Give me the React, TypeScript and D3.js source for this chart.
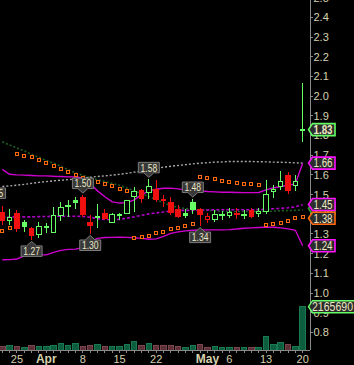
import React from 'react';
import * as d3 from 'd3';

const W = 354;
const H = 365;

// ---- OHLC (index 0 = Mar 21 ... index 41 = May 20) ----
const opens = [1.41, 1.367, 1.409, 1.359, 1.328, 1.295, 1.334, 1.307, 1.396, 1.446, 1.472, 1.488, 1.359, 1.386, 1.409, 1.359, 1.397, 1.404, 1.488, 1.522, 1.51, 1.53, 1.48, 1.46, 1.429, 1.409, 1.46, 1.429, 1.376, 1.376, 1.398, 1.395, 1.407, 1.397, 1.421, 1.404, 1.416, 1.514, 1.539, 1.601, 1.547, 1.823];
const highs = [1.44, 1.429, 1.42, 1.37, 1.333, 1.362, 1.354, 1.438, 1.46, 1.472, 1.488, 1.5, 1.396, 1.45, 1.429, 1.409, 1.409, 1.475, 1.539, 1.53, 1.58, 1.575, 1.5, 1.488, 1.446, 1.426, 1.48, 1.433, 1.409, 1.42, 1.416, 1.43, 1.43, 1.424, 1.43, 1.43, 1.575, 1.55, 1.618, 1.615, 1.598, 2.066];
const lows = [1.345, 1.345, 1.312, 1.312, 1.27, 1.281, 1.303, 1.305, 1.366, 1.388, 1.426, 1.385, 1.3, 1.332, 1.37, 1.354, 1.37, 1.4, 1.412, 1.455, 1.48, 1.463, 1.438, 1.396, 1.38, 1.38, 1.404, 1.34, 1.357, 1.362, 1.37, 1.383, 1.376, 1.376, 1.38, 1.388, 1.404, 1.485, 1.522, 1.505, 1.517, 1.766];
const closes = [1.366, 1.383, 1.325, 1.333, 1.291, 1.337, 1.339, 1.396, 1.432, 1.435, 1.455, 1.396, 1.342, 1.39, 1.374, 1.399, 1.401, 1.472, 1.514, 1.48, 1.539, 1.475, 1.467, 1.409, 1.387, 1.392, 1.421, 1.396, 1.391, 1.399, 1.401, 1.41, 1.396, 1.401, 1.388, 1.416, 1.5, 1.527, 1.569, 1.517, 1.569, 1.833];
const priorClose = 1.42;
const volumes = [200000, 250000, 200000, 150000, 210000, 190000, 160000, 250000, 340000, 240000, 330000, 200000, 240000, 290000, 190000, 200000, 190000, 260000, 450000, 240000, 340000, 250000, 240000, 210000, 200000, 140000, 250000, 300000, 150000, 190000, 150000, 150000, 150000, 150000, 150000, 150000, 660000, 300000, 360000, 300000, 190000, 2165690];

// ---- Indicators ----
const bbUpper = [1.628, 1.603, 1.6, 1.599, 1.597, 1.595, 1.595, 1.593, 1.592, 1.59, 1.589, 1.585, 1.555, 1.519, 1.489, 1.463, 1.457, 1.458, 1.473, 1.499, 1.519, 1.527, 1.532, 1.533, 1.529, 1.524, 1.522, 1.519, 1.516, 1.514, 1.512, 1.512, 1.511, 1.51, 1.51, 1.511, 1.524, 1.534, 1.541, 1.547, 1.555, 1.659];
const bbMiddle = [1.385, 1.386, 1.386, 1.387, 1.387, 1.388, 1.389, 1.39, 1.39, 1.39, 1.39, 1.389, 1.385, 1.378, 1.374, 1.372, 1.374, 1.38, 1.387, 1.395, 1.402, 1.407, 1.412, 1.417, 1.42, 1.42, 1.42, 1.421, 1.422, 1.423, 1.423, 1.423, 1.423, 1.423, 1.423, 1.424, 1.426, 1.428, 1.43, 1.433, 1.438, 1.448];
const bbLower = [1.169, 1.17, 1.173, 1.189, 1.194, 1.194, 1.194, 1.207, 1.217, 1.222, 1.223, 1.232, 1.26, 1.278, 1.282, 1.283, 1.284, 1.283, 1.281, 1.278, 1.273, 1.275, 1.288, 1.303, 1.311, 1.316, 1.319, 1.32, 1.321, 1.321, 1.321, 1.322, 1.325, 1.329, 1.331, 1.333, 1.335, 1.334, 1.331, 1.326, 1.319, 1.24];
const maGray = [1.542, 1.544, 1.548, 1.552, 1.557, 1.562, 1.566, 1.57, 1.573, 1.576, 1.579, 1.582, 1.588, 1.592, 1.595, 1.599, 1.603, 1.608, 1.614, 1.619, 1.626, 1.633, 1.639, 1.644, 1.648, 1.652, 1.656, 1.66, 1.662, 1.665, 1.666, 1.668, 1.668, 1.668, 1.668, 1.667, 1.666, 1.665, 1.664, 1.663, 1.661, 1.66];
const maGreen = [1.768, 1.752, 1.737, 1.722, 1.704, 1.689, 1.674, 1.659, 1.643, 1.627, 1.61, 1.598, 1.585, 1.575, 1.566, 1.557, 1.547, 1.534, 1.519, 1.505, 1.491, 1.475, 1.458, 1.445, 1.435, 1.429, 1.425, 1.423, 1.42, 1.418, 1.415, 1.414, 1.414, 1.414, 1.414, 1.414, 1.415, 1.416, 1.418, 1.419, 1.42, 1.422];
const sar = [1.315, 1.332, 1.707, 1.698, 1.69, 1.675, 1.661, 1.645, 1.63, 1.615, 1.6, 1.586, 1.574, 1.564, 1.553, 1.543, 1.528, 1.519, 1.278, 1.283, 1.289, 1.303, 1.312, 1.323, 1.332, 1.342, 1.35, 1.589, 1.584, 1.577, 1.571, 1.566, 1.561, 1.556, 1.552, 1.547, 1.347, 1.352, 1.357, 1.367, 1.379, 1.387];

// ---- Axis labels ----
const dateTickIndex = [2, 6, 11, 16, 21, 28, 31, 36, 41];
const dateTickLabels = ['25', 'Apr', '8', '15', '22', 'May', '6', '13', '20'];
const priceTicks = [0.8, 0.9, 1.0, 1.1, 1.2, 1.3, 1.4, 1.5, 1.6, 1.7, 1.8, 1.9, 2.0, 2.1, 2.2, 2.3, 2.4, 2.5];

// ---- High / low markers ----
const markerIndex = [-1, 4, 11, 12, 20, 26, 27];
const markerValue = [1.45, 1.27, 1.5, 1.3, 1.58, 1.48, 1.34];
const markerKind = ['high', 'low', 'high', 'low', 'high', 'high', 'low'];

// ---- Right-edge value callouts ----
const calloutValues = [1.43, 1.66, 1.45, 1.38, 1.24, 1.83];
const calloutColors = ['#2f9f2f', '#ff10ff', '#ff10ff', '#ff6a10', '#ff10ff', '#66ff66'];
const calloutBold = [false, false, false, false, false, true];
const lastVolume = 2165690;

const GREEN = '#66ff66';
const RED = '#f01010';
const AXIS_TXT = '#d6d2ae';
const SANS = "'Liberation Sans', Arial, sans-serif";

export default function App() {
  const axisX = 310;
  const baseY = 350;
  const x = d3.scaleLinear().domain([0, 41]).range([2.3, 302.7]);
  const y = d3.scaleLinear().domain([0.711, 2.488]).range([350, 0]);
  const yVol = d3.scaleLinear().domain([0, 17500000]).range([baseY, 0]);

  const line = (arr: number[]) =>
    d3.line<number>().x((_, i) => x(i)).y((d) => y(d))(arr) || '';

  const bodyW = 5.5;
  const candles = closes.map((c, i) => {
    const o = opens[i];
    const prev = i === 0 ? priorClose : closes[i - 1];
    const up = c >= prev;
    const hollow = c >= o;
    const color = up ? GREEN : RED;
    const top = y(Math.max(o, c));
    const bot = y(Math.min(o, c));
    return { i, color, hollow, top, bot, hi: y(highs[i]), lo: y(lows[i]), up };
  });

  return (
    <svg width={W} height={H} style={{ position: 'absolute', left: 0, top: 0, background: '#000' }}>
      <rect x={0} y={0} width={W} height={H} fill="#000" />

      {/* volume */}
      <g shapeRendering="crispEdges">
        {volumes.map((v, i) => {
          const up = candles[i].up;
          const yt = yVol(v);
          return (
            <rect key={'v' + i} x={x(i) - 2.75} y={yt} width={5.5} height={baseY - yt}
              fill={up ? '#0c5e3e' : '#5c3036'} stroke={up ? '#197a52' : '#7a454c'} strokeWidth={1} />
          );
        })}
      </g>

      {/* indicator lines */}
      <path d={line(maGreen)} fill="none" stroke="#1f5f24" strokeWidth={1.6} strokeDasharray="2,2" />
      <path d={line(maGray)} fill="none" stroke="#a8a8a8" strokeWidth={1.4} strokeDasharray="2,2" />
      <path d={line(bbUpper)} fill="none" stroke="#d000d0" strokeWidth={1.4} />
      <path d={line(bbLower)} fill="none" stroke="#d000d0" strokeWidth={1.4} />
      <path d={line(bbMiddle)} fill="none" stroke="#b000c8" strokeWidth={1.6} strokeDasharray="3,2" />

      {/* parabolic SAR */}
      <g shapeRendering="crispEdges">
        {sar.map((v, i) => (
          <rect key={'s' + i} x={x(i) - 1.5} y={y(v) - 1.5} width={3} height={3}
            fill="#1a0800" stroke="#ff6a10" strokeWidth={1} />
        ))}
      </g>

      {/* candles */}
      <g shapeRendering="crispEdges">
        {candles.map((c) => {
          const cx = x(c.i);
          const h = Math.max(1, c.bot - c.top);
          return (
            <g key={'c' + c.i}>
              <line x1={cx} x2={cx} y1={c.hi} y2={c.lo} stroke={c.color} strokeWidth={1} />
              {c.hollow ? (
                <rect x={cx - bodyW / 2 + 0.5} y={c.top} width={bodyW - 1} height={h}
                  fill="#000" stroke={c.color} strokeWidth={1} />
              ) : (
                <rect x={cx - bodyW / 2} y={c.top} width={bodyW} height={h} fill={c.color} />
              )}
            </g>
          );
        })}
      </g>

      {/* axes */}
      <line x1={axisX} x2={axisX} y1={0} y2={baseY} stroke="#8a8a8a" strokeWidth={1} shapeRendering="crispEdges" />
      <line x1={0} x2={axisX} y1={baseY} y2={baseY} stroke="#8a8a8a" strokeWidth={1} shapeRendering="crispEdges" />
      {closes.map((_, i) => (
        <line key={'bt' + i} x1={x(i)} x2={x(i)} y1={baseY} y2={baseY + 3} stroke="#8a8a8a" strokeWidth={1} shapeRendering="crispEdges" />
      ))}
      {priceTicks.map((t) => (
        <g key={'pt' + t}>
          <line x1={axisX} x2={axisX + 3} y1={y(t)} y2={y(t)} stroke="#8a8a8a" strokeWidth={1} shapeRendering="crispEdges" />
          <text x={axisX + 3.5} y={y(t)} dy="0.36em" fontFamily={SANS} fontSize={11} fill={AXIS_TXT}>
            {t.toFixed(1)}
          </text>
        </g>
      ))}
      {dateTickIndex.map((ti, k) => {
        const isMonth = /[A-Za-z]/.test(dateTickLabels[k]);
        return (
          <text key={'dt' + k} x={x(ti)} y={363} textAnchor="middle" fontFamily={SANS}
            fontSize={isMonth ? 12 : 11} fontWeight={isMonth ? 'bold' : 'normal'} fill={AXIS_TXT}>
            {dateTickLabels[k]}
          </text>
        );
      })}

      {/* high / low markers */}
      {markerIndex.map((mi, k) => {
        const cx = x(mi);
        const vy = y(markerValue[k]);
        const bw = 21, bh = 10.5, th = 4.5;
        let d: string;
        let ty: number;
        if (markerKind[k] === 'high') {
          const tip = vy - 1.5;
          const bb = tip - th;
          const bt = bb - bh;
          d = `M${cx - bw / 2},${bt} H${cx + bw / 2} V${bb} H${cx + 5} L${cx},${tip} L${cx - 5},${bb} H${cx - bw / 2} Z`;
          ty = (bt + bb) / 2;
        } else {
          const tip = vy + 1.5;
          const bt = tip + th;
          const bb = bt + bh;
          d = `M${cx - bw / 2},${bt} H${cx - 5} L${cx},${tip} L${cx + 5},${bt} H${cx + bw / 2} V${bb} H${cx - bw / 2} Z`;
          ty = (bt + bb) / 2;
        }
        return (
          <g key={'m' + k}>
            <path d={d} fill="#393939" stroke="#7c7c7c" strokeWidth={1} />
            <text x={cx - 8.3} y={ty} dy="0.36em" fontFamily={SANS} fontSize={11} fill="#ece8c4"
              textLength={16.6} lengthAdjust="spacingAndGlyphs">
              {markerValue[k].toFixed(2)}
            </text>
          </g>
        );
      })}

      {/* right callouts */}
      {calloutValues.map((v, k) => {
        const cy = y(v);
        const tip = 308.5;
        const x1 = 335;
        const d = `M${tip},${cy} L${tip + 4},${cy - 6} H${x1} V${cy + 6} H${tip + 4} Z`;
        return (
          <g key={'co' + k}>
            <path d={d} fill="#2c2c2c" stroke={calloutColors[k]} strokeWidth={1.6} />
            <text x={tip + 5} y={cy} dy="0.36em" fontFamily={SANS} fontSize={12}
              fontWeight={calloutBold[k] ? 'bold' : 'normal'} fill="#ece8c4"
              textLength={19} lengthAdjust="spacingAndGlyphs">
              {v.toFixed(2)}
            </text>
          </g>
        );
      })}
      {(() => {
        const cy = yVol(lastVolume);
        const tip = 308.5;
        const d = `M${tip},${cy} L${tip + 4},${cy - 6} H${W + 5} V${cy + 6} H${tip + 4} Z`;
        return (
          <g>
            <path d={d} fill="#2c2c2c" stroke="#66ff66" strokeWidth={1.4} />
            <text x={tip + 3.5} y={cy} dy="0.36em" fontFamily={SANS} fontSize={12} fill="#ece8c4"
              textLength={41} lengthAdjust="spacingAndGlyphs">
              {String(lastVolume)}
            </text>
          </g>
        );
      })()}
    </svg>
  );
}
